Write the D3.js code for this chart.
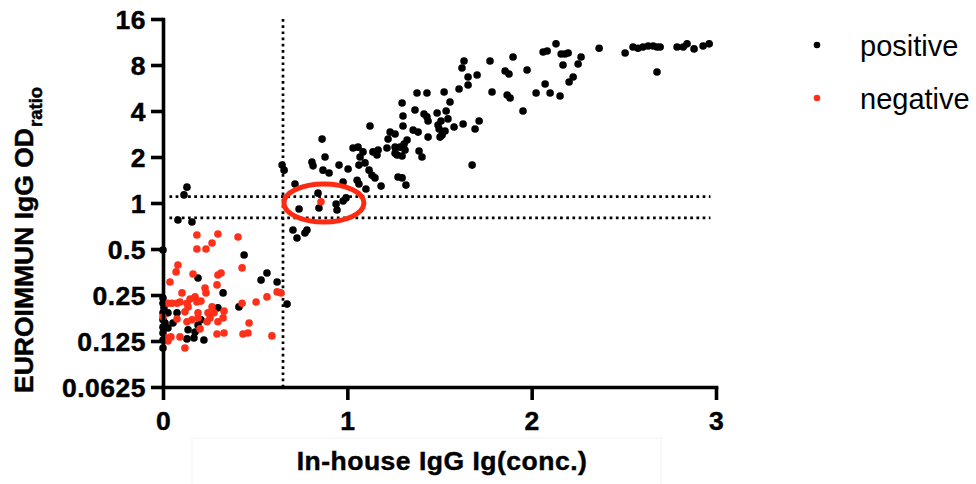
<!DOCTYPE html>
<html><head><meta charset="utf-8">
<script src="https://cdn.jsdelivr.net/npm/d3@7"></script>
<style>body{margin:0;background:#fff}svg{display:block}</style>
</head><body><svg id="c" width="976" height="484"></svg>
<script>
// ---- data ----
const posX = [2.062,2.084,2.132,2.160,2.181,2.198,2.170,2.268,2.252,2.225,2.203,2.073,2.100,2.154,2.024,1.975,2.366,2.507,2.550,2.577,2.604,2.632,2.659,2.680,2.697,2.680,2.789,2.822,2.843,2.881,2.930,2.963,
 1.899,1.774,1.633,1.622,1.655,1.704,1.655,1.606,1.856,1.877,1.785,1.867,1.883,1.953,1.525,1.432,1.378,1.297,1.557,1.367,1.302,1.416,1.432,1.487,1.536,1.438,1.546,1.508,1.492,1.498,1.530,1.514,1.503,1.579,1.628,1.715,1.693,1.302,1.357,1.384,1.438,1.232,1.259,1.221,1.324,1.308,1.286,1.259,1.215,1.313,1.389,1.405,1.259,1.677,1.275,1.297,1.318,1.183,
 1.123,1.031,1.058,1.069,1.085,1.063,1.096,1.118,1.134,1.139,1.161,1.167,1.150,1.270,1.297,
 0.646,0.657,0.716,0.808,0.814,0.863,0.879,0.868,0.901,0.955,1.004,0.977,1.053,1.063,1.101,0.841,0.846,0.738,0.939,0.944,0.977,0.993,0.705,0.727,0.770,0.781,
 0.130,0.114,0.081,0.157,0.0,0.440,0.190,0.532,0.564,0.619,0.673,0.412,0.326,0.298,0.222,0.168,0.206,0.136,0.130,0.174,0.190,0.0,0.0,0.005,0.0,0.027,0.076,0.0,0.011,0.027,0.0,0.0,0.0,0.0,0.054];
const posY = [9.73,9.88,11.0,9.45,9.45,9.59,8.0,9.03,8.12,6.68,6.19,6.01,5.25,5.02,5.25,7.42,10.3,9.59,10.5,10.3,10.5,10.66,10.66,10.5,10.5,7.20,10.5,10.5,11.0,10.2,10.66,11.0,
 9.03,8.50,8.50,7.65,6.68,6.88,5.92,5.57,7.31,6.98,5.33,5.09,4.87,4.0,5.33,5.25,5.25,4.51,4.58,4.06,3.71,3.82,3.66,3.88,4.0,3.44,3.55,3.44,3.24,3.05,2.96,2.79,2.70,3.14,3.29,3.44,3.05,3.19,3.00,2.91,2.70,2.91,2.83,2.62,2.58,2.43,2.32,2.32,2.29,2.22,2.19,2.0,2.12,1.77,1.48,1.46,1.31,1.29,
 3.19,2.29,2.32,2.0,2.16,1.77,1.83,1.64,1.52,2.16,2.06,2.22,1.46,2.06,2.03,
 1.77,1.64,1.33,1.855,1.75,2.62,2.0,1.64,1.57,1.77,1.67,1.37,1.41,1.33,1.235,1.16,0.927,0.914,0.985,0.90,1.03,1.08,0.666,0.590,0.636,0.666,
 1.27,1.13,0.774,0.751,0.492,0.457,0.323,0.313,0.348,0.304,0.218,0.209,0.258,0.206,0.127,0.131,0.172,0.148,0.129,0.143,0.159,0.239,0.221,0.206,0.191,0.191,0.191,0.172,0.164,0.152,0.154,0.141,0.127,0.1125,0.164];
const negX = [0.184,0.298,0.407,0.184,0.233,0.266,0.081,0.071,0.038,0.163,0.298,0.315,0.429,0.293,0.228,0.233,0.103,0.092,0.027,0.049,0.076,0.130,0.147,0.174,0.184,0.206,0.136,0.119,0.190,0.244,0.266,0.277,0.331,0.326,0.298,0.255,0.239,0.190,0.157,0.130,0.076,0.0,0.092,0.016,0.027,0.043,0.119,0.293,0.331,0.429,0.434,0.461,0.467,0.505,0.564,0.619,0.640,0.591,0.201,0.857];
const negY = [0.617,0.627,0.599,0.5,0.5,0.547,0.393,0.354,0.304,0.343,0.338,0.348,0.376,0.291,0.278,0.258,0.258,0.225,0.221,0.221,0.221,0.221,0.235,0.243,0.225,0.228,0.209,0.194,0.191,0.191,0.209,0.191,0.196,0.177,0.167,0.177,0.167,0.177,0.172,0.167,0.174,0.180,0.133,0.131,0.125,0.133,0.1125,0.139,0.141,0.221,0.139,0.141,0.164,0.225,0.243,0.262,0.258,0.135,0.150,1.02];

const xTicks = [0, 1, 2, 3];
const yTicks = [0.0625, 0.125, 0.25, 0.5, 1, 2, 4, 8, 16];
const yTickLabels = ["0.0625", "0.125", "0.25", "0.5", "1", "2", "4", "8", "16"];
const xCut = 0.651, yCutHi = 1.1, yCutLo = 0.8;
const seriesNames = ["positive", "negative"];
const seriesColors = ["#000000", "#ff3019"];
const xTitle = "In-house IgG Ig(conc.)";
const yTitleMain = "EUROIMMUN IgG OD", yTitleSub = "ratio";
const highlightCenter = [0.873, 1.0];

// ---- drawing ----
const svg = d3.select("#c");
const x = d3.scaleLinear().domain([0, 3]).range([163, 716]);
const y = d3.scaleLog().base(2).domain([0.0625, 16]).range([387, 19]);
const FONT = "'Liberation Sans', Arial, Helvetica, sans-serif";

// faint frame around the x title (artifact in reference)
svg.append("rect").attr("x", 192).attr("y", 438).attr("width", 469).attr("height", 60)
  .attr("fill", "none").attr("stroke", "#f3f3f3").attr("stroke-width", 1);

// dotted reference lines
const dot = {"stroke": "#000", "stroke-width": 2.7, "stroke-dasharray": "2.7 3.5", "fill": "none"};
function dline(x1, y1, x2, y2) {
  const l = svg.append("line").attr("x1", x1).attr("y1", y1).attr("x2", x2).attr("y2", y2);
  Object.entries(dot).forEach(([k, v]) => l.attr(k, v));
}
dline(x(xCut), y(16), x(xCut), y(0.0625) + 4);
dline(x(0.035), y(yCutHi), x(2.97), y(yCutHi));
dline(x(0.035), y(yCutLo), x(2.97), y(yCutLo));

// points
const pos = posX.map((v, i) => ({x: v, y: posY[i]}));
const neg = negX.map((v, i) => ({x: v, y: negY[i]}));
svg.append("g").selectAll("circle").data(pos).join("circle")
  .attr("cx", d => x(d.x)).attr("cy", d => y(d.y)).attr("r", 3.8).attr("fill", seriesColors[0]);
svg.append("g").selectAll("circle").data(neg).join("circle")
  .attr("cx", d => x(d.x)).attr("cy", d => y(d.y)).attr("r", 3.8).attr("fill", seriesColors[1]);

// highlight ellipse
svg.append("ellipse").attr("cx", x(highlightCenter[0])).attr("cy", y(highlightCenter[1]))
  .attr("rx", 40).attr("ry", 19).attr("fill", "none").attr("stroke", "#ff2a12").attr("stroke-width", 5);

// axes
const xAxis = d3.axisBottom(x).tickValues(xTicks).tickFormat(d3.format("d")).tickSize(13).tickPadding(11).tickSizeOuter(0);
const yAxis = d3.axisLeft(y).tickValues(yTicks).tickFormat((d, i) => yTickLabels[i]).tickSize(12).tickPadding(5).tickSizeOuter(0);
const gx = svg.append("g").attr("transform", "translate(0,387)").call(xAxis);
const gy = svg.append("g").attr("transform", "translate(163,0)").call(yAxis);
function heavy(sel) {
  return sel.style("font-family", FONT).style("font-weight", "bold")
    .attr("fill", "#000").attr("stroke", "#000").attr("stroke-width", 0.45);
}
[gx, gy].forEach(g => {
  g.select(".domain").attr("stroke", "#000").attr("stroke-width", 3.6).attr("stroke-linecap", "square");
  g.selectAll(".tick line").attr("stroke", "#000").attr("stroke-width", 3.6);
  heavy(g.selectAll(".tick text")).style("font-size", "26.5px").style("letter-spacing", "0.5px");
});
gy.selectAll(".tick text").attr("dy", "0.37em");

// axis titles
heavy(svg.append("text").attr("x", 442).attr("y", 470).attr("text-anchor", "middle"))
  .style("font-size", "26.5px").style("letter-spacing", "0.5px").text(xTitle);
const yt = heavy(svg.append("text").attr("transform", "translate(33,393) rotate(-90)"))
  .style("font-size", "26.5px");
yt.append("tspan").text(yTitleMain);
yt.append("tspan").attr("dx", 1).attr("dy", 8.5).style("font-size", "18.5px").text(yTitleSub);

// legend
const leg = svg.append("g");
seriesNames.forEach((n, i) => {
  const cy = [45, 98][i];
  leg.append("circle").attr("cx", 817).attr("cy", cy).attr("r", 3.3).attr("fill", seriesColors[i]);
  leg.append("text").attr("x", 860).attr("y", cy + 11).style("font-family", FONT)
    .style("font-size", "29px").attr("fill", "#000").text(n);
});
</script></body></html>
